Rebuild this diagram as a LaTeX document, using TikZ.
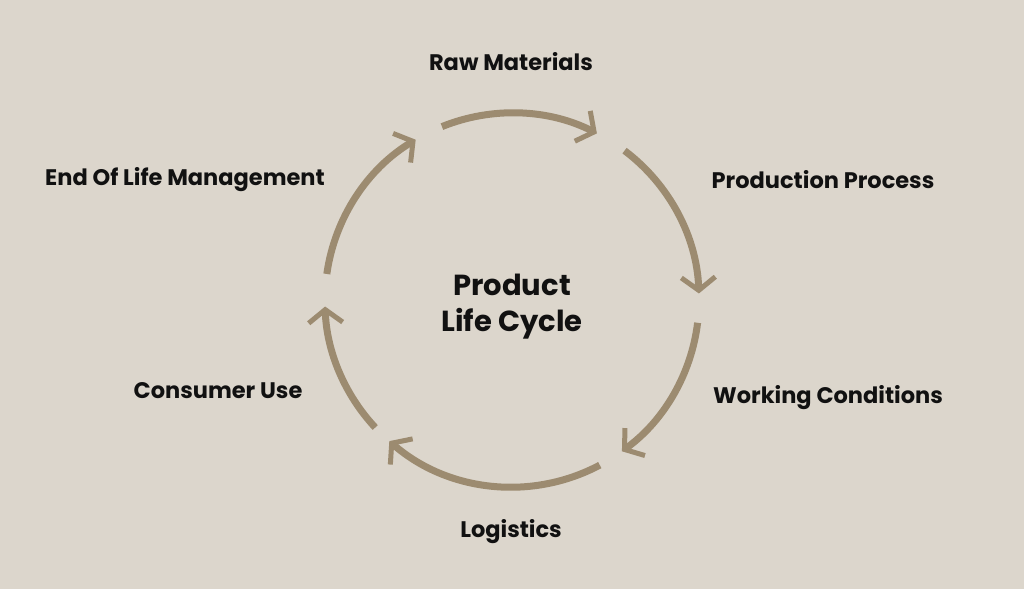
\documentclass[tikz,border=0pt]{standalone}
\usepackage{fontspec}
\setmainfont{Poppins}
\usetikzlibrary{arrows.meta,calc}
\definecolor{bg}{HTML}{DCD6CC}
\definecolor{arcc}{HTML}{9C8B70}
\definecolor{txt}{HTML}{111111}
\begin{document}
\begin{tikzpicture}[x=1pt,y=1pt,
  arcseg/.style={draw=arcc,line width=7pt,-{Straight Barb[length=13pt,width=34pt,line width=5pt]}},
  lab/.style={text=txt,font=\fontsize{22.5}{27}\selectfont\bfseries},
  ctr/.style={text=txt,font=\fontsize{29}{36}\selectfont\bfseries,align=center}]
\fill[bg] (0,0) rectangle (1024,589);
\useasboundingbox (0,0) rectangle (1024,589);
\coordinate (c) at (512,289);
\foreach \a/\b in {112/63, 53/2, -7/-54, -62/-131, -137/-178, 172/121}{
  \draw[arcseg] ($(c)+(\a:187)$) arc[start angle=\a,end angle=\b,radius=187];
}
\node[ctr] (center) at (512,282) {Product\\Life Cycle};
\node[lab] (raw) at (511,527) {Raw Materials};
\node[lab] (prod) at (823,409) {Production Process};
\node[lab] (work) at (828,191) {Working Conditions};
\node[lab] (log) at (511,57) {Logistics};
\node[lab] (cons) at (218,198) {Consumer Use};
\node[lab] (eol) at (185,409) {End Of Life Management};
\end{tikzpicture}
\end{document}
